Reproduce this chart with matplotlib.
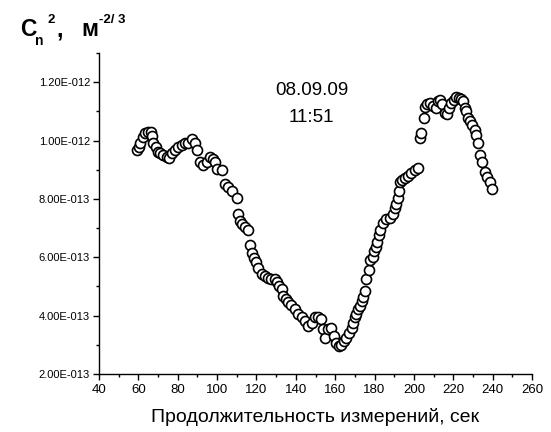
import numpy as np
import matplotlib
matplotlib.use("Agg")
from matplotlib import pyplot as plt
from matplotlib.ticker import MultipleLocator, FixedLocator

# Cn^2 time series (units of 1E-13 m^-2/3)
t_sec = [59.1, 60.5, 60.8, 62.2, 63.4, 65.0, 66.2, 66.9, 67.6, 68.9,
         70.1, 71.0, 72.6, 74.3, 75.7, 76.9, 78.6, 80.3, 82.0, 83.7,
         85.3, 87.1, 88.7, 89.6, 91.3, 92.9, 94.7, 96.3, 98.0, 98.9,
         99.7, 102.3, 104.0, 105.6, 107.4, 109.9, 110.7, 111.6, 112.8, 114.2,
         115.8, 116.6, 117.5, 118.7, 120.0, 120.9, 122.6, 124.3, 126.0, 127.6,
         129.3, 130.2, 131.5, 133.2, 133.5, 134.9, 136.1, 137.8, 139.5, 141.2,
         142.9, 144.6, 146.2, 148.0, 149.6, 151.3, 153.0, 154.0, 155.0, 156.4,
         158.1, 159.3, 160.6, 162.0, 163.2, 164.4, 165.7, 167.1, 168.3, 169.1,
         170.0, 170.8, 171.6, 172.5, 173.4, 173.9, 175.0, 175.9, 177.2, 177.6,
         179.0, 179.6, 180.6, 181.3, 182.3, 183.0, 184.3, 186.0, 187.7, 189.4,
         190.3, 191.1, 191.9, 192.4, 192.8, 194.1, 195.3, 197.0, 198.7, 200.4,
         202.1, 202.9, 203.8, 205.0, 205.5, 206.7, 208.0, 209.7, 211.1, 212.2,
         213.4, 214.4, 215.6, 216.8, 217.8, 219.0, 220.2, 221.5, 222.9, 224.1,
         224.9, 225.8, 226.6, 227.5, 228.7, 229.7, 230.9, 231.7, 232.5, 233.4,
         234.7, 235.9, 237.1, 238.5, 239.8]
cn2 = [9.68, 9.79, 9.93, 10.14, 10.25, 10.31, 10.28, 10.16, 9.93, 9.77,
       9.62, 9.56, 9.50, 9.44, 9.42, 9.56, 9.68, 9.79, 9.85, 9.91,
       9.91, 10.05, 9.91, 9.68, 9.27, 9.15, 9.27, 9.44, 9.38, 9.27,
       9.04, 8.98, 8.51, 8.40, 8.28, 8.05, 7.47, 7.24, 7.15, 7.05,
       6.95, 6.43, 6.14, 5.97, 5.85, 5.62, 5.44, 5.35, 5.29, 5.27,
       5.27, 5.15, 5.03, 4.92, 4.69, 4.57, 4.48, 4.37, 4.23, 4.05,
       3.94, 3.82, 3.65, 3.76, 3.94, 3.97, 3.88, 3.53, 3.24, 3.53,
       3.59, 3.30, 3.07, 2.95, 3.01, 3.12, 3.24, 3.41, 3.59, 3.76,
       3.94, 4.05, 4.23, 4.34, 4.51, 4.63, 4.86, 5.27, 5.56, 5.91,
       6.02, 6.20, 6.37, 6.54, 6.78, 6.95, 7.18, 7.30, 7.36, 7.47,
       7.70, 7.84, 8.05, 8.28, 8.57, 8.65, 8.72, 8.80, 8.89, 8.98,
       9.07, 10.08, 10.26, 10.78, 11.16, 11.24, 11.30, 11.18, 11.13, 11.36,
       11.40, 11.24, 10.95, 10.90, 11.13, 11.30, 11.40, 11.48, 11.46, 11.42,
       11.36, 11.13, 11.02, 10.78, 10.66, 10.55, 10.37, 10.20, 9.91, 9.50,
       9.27, 8.92, 8.75, 8.57, 8.35]
cn2 = np.array(cn2) * 1e-13

y_ticks = [2e-13, 4e-13, 6e-13, 8e-13, 1e-12, 1.2e-12]
y_ticklabels = ["2.00E-013", "4.00E-013", "6.00E-013", "8.00E-013",
                "1.00E-012", "1.20E-012"]
x_ticks = [40, 60, 80, 100, 120, 140, 160, 180, 200, 220, 240, 260]

font = "Liberation Sans"
plt.rcParams['font.family'] = [font, 'DejaVu Sans']

fig = plt.figure(figsize=(5.51, 4.32), dpi=100)
ax = fig.add_axes([0.1797, 0.1343, 0.7858, 0.7427])

ax.plot(t_sec, cn2, 'o', ms=7.2, mfc='white', mec='black', mew=1.2)

ax.set_xlim(40, 260)
ax.set_ylim(2e-13, 1.3e-12)
ax.set_xticks(x_ticks)
ax.xaxis.set_minor_locator(MultipleLocator(10))
ax.set_yticks(y_ticks)
ax.set_yticklabels(y_ticklabels)
ax.yaxis.set_minor_locator(FixedLocator([3e-13, 5e-13, 7e-13, 9e-13, 1.1e-12, 1.3e-12]))

for side in ['top', 'right']:
    ax.spines[side].set_visible(False)
for side in ['left', 'bottom']:
    ax.spines[side].set_linewidth(1.0)

ax.tick_params(axis='both', which='major', direction='out', length=4.5, width=1.0)
ax.tick_params(axis='both', which='minor', direction='out', length=2.5, width=1.0)
ax.tick_params(axis='x', labelsize=9.5, pad=3)
ax.tick_params(axis='y', labelsize=8, pad=2)

ax.set_xlabel("Продолжительность измерений, сек", fontsize=14, labelpad=8)

# date / time stamp
ax.text(0.491, 0.842, "08.09.09\n11:51", transform=ax.transAxes,
        ha='center', va='center', fontsize=13.5, linespacing=1.75)

# y axis title  Cn^2, m^-2/3
fig.text(20 / 551, 1 - 36 / 432, "C", fontsize=16.5, fontweight='bold', va='baseline')
fig.text(35 / 551, 1 - 45 / 432, "n", fontsize=10, fontweight='bold', va='baseline')
fig.text(47 / 551, 1 - 23 / 432, "2", fontsize=9.5, fontweight='bold', va='baseline')
fig.text(56 / 551, 1 - 36 / 432, ",", fontsize=16.5, fontweight='bold', va='baseline')
fig.text(81 / 551, 1 - 36 / 432, "м", fontsize=16.5, fontweight='bold', va='baseline')
fig.text(99 / 551, 1 - 23 / 432, "-2/ 3", fontsize=9.5, fontweight='bold', va='baseline')

plt.savefig("out.png", dpi=100)
